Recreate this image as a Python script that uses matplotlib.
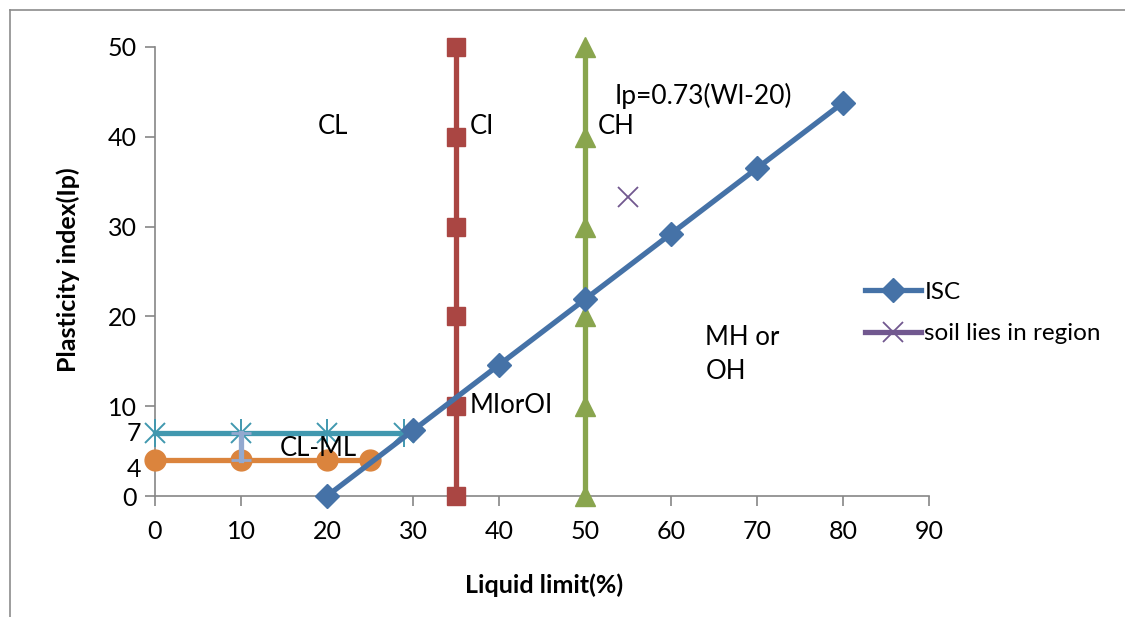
import matplotlib
matplotlib.use("Agg")
import matplotlib.pyplot as plt
from matplotlib.lines import Line2D

plt.rcParams['font.family'] = ['Lato', 'DejaVu Sans']

# ---- data ----
isc_x = [20, 30, 40, 50, 60, 70, 80]
isc_y = [0, 7.3, 14.6, 21.9, 29.2, 36.5, 43.8]
ci_x = [35, 35, 35, 35, 35, 35]
ci_y = [0, 10, 20, 30, 40, 50]
ch_x = [50, 50, 50, 50, 50, 50]
ch_y = [0, 10, 20, 30, 40, 50]
a7_x = [0, 10, 20, 29]
a7_y = [7, 7, 7, 7]
a4_x = [0, 10, 20, 25]
a4_y = [4, 4, 4, 4]
v_x = [10, 10]
v_y = [4, 7]
soil_x = [55]
soil_y = [33.3]

x_ticks = [0, 10, 20, 30, 40, 50, 60, 70, 80, 90]
y_ticks = [0, 10, 20, 30, 40, 50]
extra_y_labels = ["7", "4"]
extra_y_pos = [7, 2.9]

W, H = 1125, 617
fig = plt.figure(figsize=(W / 100, H / 100), dpi=100)
ax = fig.add_axes([155 / W, 1 - 496 / H, (929 - 155) / W, (496 - 47) / H])

blue = '#4572A7'
red = '#AA4643'
green = '#89A54E'
purple = '#71588F'
teal = '#4198AF'
orange = '#DB843D'
lblue = '#93A9CF'

lw = 3.8
ax.plot(a7_x, a7_y, color=teal, lw=lw, marker='x', ms=15, mew=1.4, clip_on=False, zorder=3)
ax.plot(a7_x, a7_y, color=teal, lw=0, marker='|', ms=20, mew=1.4, clip_on=False, zorder=3)
ax.plot(a4_x, a4_y, color=orange, lw=lw, marker='o', ms=15, clip_on=False, zorder=3)
ax.plot(v_x, v_y, color=lblue, lw=lw, marker='_', ms=14, mew=2, clip_on=False, zorder=4)
ax.plot(ci_x, ci_y, color=red, lw=lw, marker='s', ms=13, clip_on=False, zorder=3)
ax.plot(ch_x, ch_y, color=green, lw=lw, marker='^', ms=15, clip_on=False, zorder=3)
l_isc, = ax.plot(isc_x, isc_y, color=blue, lw=lw, marker='D', ms=12, clip_on=False, zorder=5, label='ISC')
l_soil, = ax.plot(soil_x, soil_y, color=purple, lw=lw, marker='x', ms=14, mew=1.3, clip_on=False, zorder=5,
                  label='soil lies in region')

ax.set_xlim(0, 90)
ax.set_ylim(0, 50)
ax.set_xticks(x_ticks)
ax.set_yticks(y_ticks)
for s in ['top', 'right']:
    ax.spines[s].set_visible(False)
for s in ['left', 'bottom']:
    ax.spines[s].set_color('#868686')
    ax.spines[s].set_linewidth(1.2)
ax.tick_params(axis='both', colors='#868686', labelcolor='black', labelsize=18, length=7, width=1.2, direction='out')
ax.tick_params(axis='x', pad=10)
ax.tick_params(axis='y', pad=6)

for lab, yp in zip(extra_y_labels, extra_y_pos):
    ax.text(-1.6, yp, lab, ha='right', va='center', fontsize=18)

tfs = 18.5
ax.text(20.7, 41.1, 'CL', ha='center', va='center', fontsize=tfs)
ax.text(36.6, 41.1, 'CI', ha='left', va='center', fontsize=tfs)
ax.text(51.5, 41.1, 'CH', ha='left', va='center', fontsize=tfs)
ax.text(53.5, 44.5, 'Ip=0.73(Wl-20)', ha='left', va='center', fontsize=19)
ax.text(64.0, 15.8, 'MH or\nOH', ha='left', va='center', fontsize=tfs, linespacing=1.45)
ax.text(36.6, 10.1, 'MIorOI', ha='left', va='center', fontsize=tfs)
ax.text(19.0, 5.3, 'CL-ML', ha='center', va='center', fontsize=tfs)

ax.set_xlabel('Liquid limit(%)', fontsize=18, fontweight='bold')
ax.xaxis.set_label_coords(0.503, (496 - 573) / (496 - 47) + 0.0)
ax.set_ylabel('Plasticity index(Ip)', fontsize=18, fontweight='bold')
ax.yaxis.set_label_coords((80 - 155) / (929 - 155), (496 - 270) / (496 - 47))

leg = fig.legend(handles=[l_isc, l_soil], loc='upper left', bbox_to_anchor=(855 / W, 1 - 272 / H),
                 frameon=False, fontsize=17.5, handlelength=2.3, handletextpad=0.15, labelspacing=0.85,
                 borderaxespad=0)

# outer chart border (left and top visible)
fig.add_artist(Line2D([10 / W, 10 / W], [0, 1 - 10 / H], color='#8c8c8c', lw=1.2, transform=fig.transFigure))
fig.add_artist(Line2D([10 / W, 1], [1 - 10 / H, 1 - 10 / H], color='#8c8c8c', lw=1.2, transform=fig.transFigure))

fig.savefig('out.png', dpi=100)
